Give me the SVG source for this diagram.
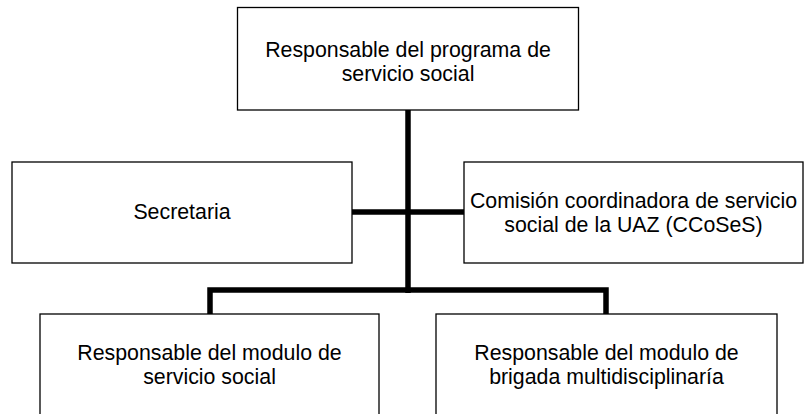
<svg xmlns="http://www.w3.org/2000/svg" width="805" height="414" viewBox="0 0 805 414">
<style>
.box{fill:#fff;stroke:#000;stroke-width:1.3}
.lbl{font-family:"Liberation Sans",Arial,sans-serif;font-size:21.33px;fill:#000;text-anchor:middle}
.con{fill:none;stroke:#000;stroke-width:5.5;stroke-linejoin:miter;stroke-linecap:butt}
</style>
<rect width="805" height="414" fill="#fff"/>
<g id="connectors">
<path class="con" d="M408,110 V293"/>
<path class="con" d="M352,212 H464"/>
<path class="con" d="M210,314 V290 H606 V314"/>
</g>
<g id="n-top">
<rect class="box" x="237.5" y="7.5" width="341" height="102.5"/>
<text class="lbl" x="408" y="57">Responsable del programa de</text>
<text class="lbl" x="408" y="81">servicio social</text>
</g>
<g id="n-secretaria">
<rect class="box" x="12" y="162" width="340" height="101"/>
<text class="lbl" x="182" y="219">Secretaria</text>
</g>
<g id="n-ccoses">
<rect class="box" x="464" y="162" width="339" height="101"/>
<text class="lbl" x="633.5" y="207.5">Comisión coordinadora de servicio</text>
<text class="lbl" x="633.5" y="231.5">social de la UAZ (CCoSeS)</text>
</g>
<g id="n-modulo-ss">
<rect class="box" x="40" y="314" width="339" height="110"/>
<text class="lbl" x="209.5" y="360">Responsable del modulo de</text>
<text class="lbl" x="209.5" y="384">servicio social</text>
</g>
<g id="n-modulo-bm">
<rect class="box" x="436" y="314" width="341" height="110"/>
<text class="lbl" x="606.5" y="360">Responsable del modulo de</text>
<text class="lbl" x="606.5" y="384">brigada multidisciplinaría</text>
</g>
</svg>
